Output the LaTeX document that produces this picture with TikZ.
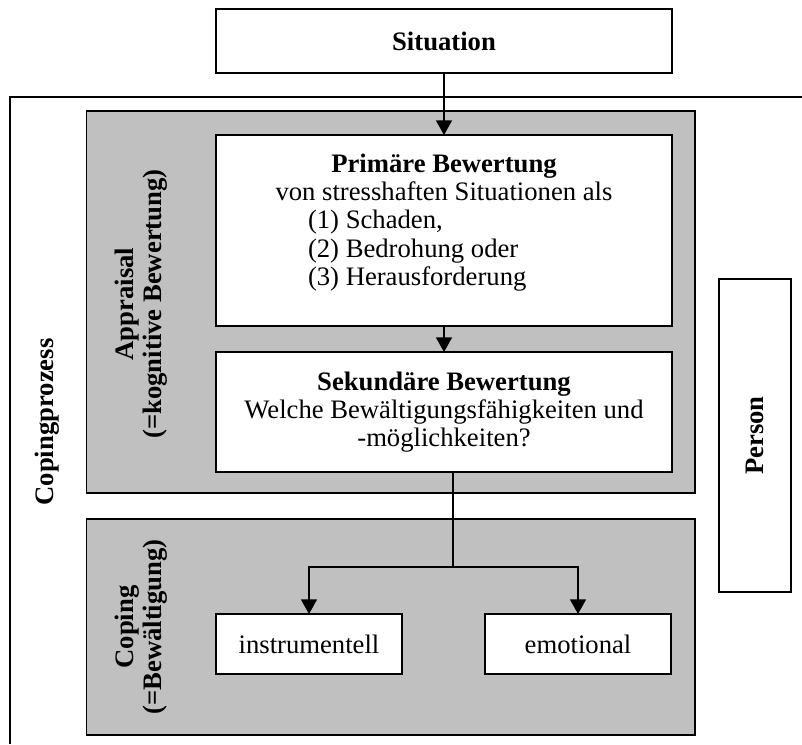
\documentclass[tikz,border=0pt]{standalone}
\usepackage{fontspec}
\setmainfont{Liberation Serif}
\usetikzlibrary{arrows.meta}
\definecolor{panelgray}{HTML}{C0C0C0}

\begin{document}
\begin{tikzpicture}[x=0.75pt,y=-0.75pt,
  every node/.style={font=\fontsize{20}{21.2}\selectfont},
  frame/.style={draw, line width=1.4pt, inner sep=0pt, outer sep=0pt},
  whitebox/.style={frame, fill=white},
  panel/.style={frame, fill=panelgray},
  link/.style={line width=1.2pt},
  arrowlink/.style={link, -{Triangle[width=12pt,length=11pt]}},
  lbl/.style={inner sep=0pt, align=center}
]
\useasboundingbox (0,0) rectangle (802,744);

% open frame of the coping process
\coordinate (frameTR) at (802,97);
\coordinate (frameBL) at (10,744);
\draw[link] (frameTR) -| (frameBL);

% grey panels
\node[panel, minimum width=456.4pt, minimum height=286.5pt] (appraisal) at (390.75,302) {};
\node[panel, minimum width=456.4pt, minimum height=162pt] (coping) at (390.75,627) {};

% boxes
\node[whitebox, minimum width=342pt, minimum height=48pt] (situation) at (444,41) {\textbf{Situation}};
\node[whitebox, minimum width=342pt, minimum height=143.25pt] (primary) at (444,230.5) {};
\node[lbl] (primaryText) at (444,222.5) {\textbf{Primäre Bewertung}\\
  von stresshaften Situationen als\\
  \makebox[204pt][l]{(1) Schaden,}\\
  \makebox[204pt][l]{(2) Bedrohung oder}\\
  \makebox[204pt][l]{(3) Herausforderung}};
\node[whitebox, minimum width=342pt, minimum height=90pt, align=center] (secondary) at (444,412)
  {\textbf{Sekundäre Bewertung}\\ Welche Bewältigungsfähigkeiten und\\ -möglichkeiten?};
\node[whitebox, minimum width=139.5pt, minimum height=45pt] (instr) at (309,644) {instrumentell};
\node[whitebox, minimum width=139.5pt, minimum height=45pt] (emot) at (578,644) {emotional};
\node[whitebox, rotate=90, minimum width=234.75pt, minimum height=54pt] (person) at (755,435.5) {\textbf{Person}};

% rotated labels
\node[lbl, rotate=90] (appraisalLabel) at (141,304) {\textbf{Appraisal}\\\textbf{(=kognitive Bewertung)}};
\node[lbl, rotate=90] (copingLabel) at (141,627) {\textbf{Coping}\\\textbf{(=Bewältigung)}};
\node[lbl, rotate=90] (processLabel) at (47,422) {\textbf{Copingprozess}};

% connectors
\draw[arrowlink] (situation.south) -- (primary.north);
\draw[arrowlink] (primary.south) -- (secondary.north);
\coordinate (split) at (453,567);
\draw[link] (secondary.south -| split) -- (split);
\draw[arrowlink] (split) -| (instr.north);
\draw[arrowlink] (split) -| (emot.north);
\end{tikzpicture}
\end{document}
